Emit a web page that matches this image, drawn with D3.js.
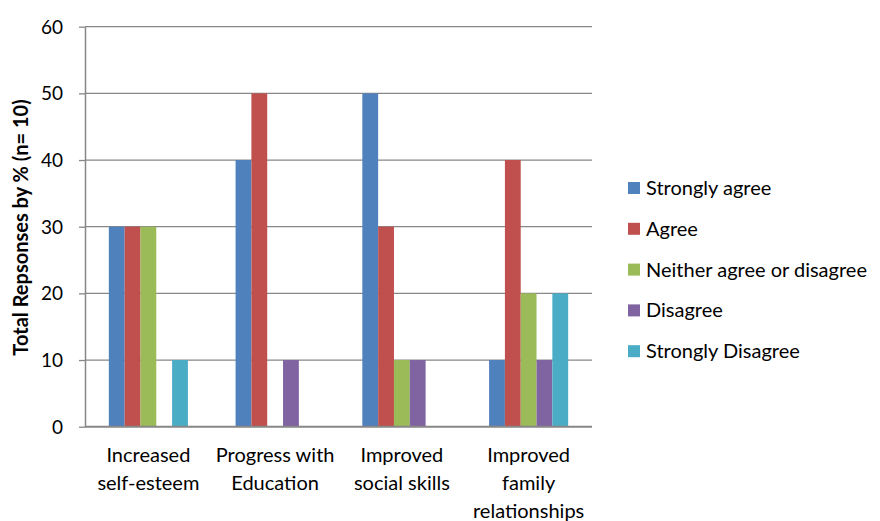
<!DOCTYPE html>
<html><head><meta charset="utf-8">
<script src="https://cdn.jsdelivr.net/npm/d3@7"></script>
<style>body{margin:0;background:#fff}svg{display:block}text{font-family:Lato,"Open Sans",sans-serif;fill:#000}</style>
</head><body><svg id="c" width="880" height="521"></svg>
<script>
const categories = [["Increased","self-esteem"],["Progress with","Education"],["Improved","social skills"],["Improved","family","relationships"]];
const seriesNames = ["Strongly agree","Agree","Neither agree or disagree","Disagree","Strongly Disagree"];
const colors = ["#4F81BD","#C0504D","#9BBB59","#8064A2","#4BACC6"];
const stronglyAgree = [30,40,50,10];
const agree = [30,50,30,40];
const neither = [30,0,10,20];
const disagree = [0,10,10,10];
const stronglyDisagree = [10,0,0,20];
const yTicks = [0,10,20,30,40,50,60];
const yTitle = "Total Repsonses by % (n= 10)";

const values = [stronglyAgree, agree, neither, disagree, stronglyDisagree];
const svg = d3.select("#c");
const L = 85, R = 592, T = 26.7, B = 426.7;
const y = d3.scaleLinear().domain([0,60]).range([B,T]);
const x0 = d3.scaleBand().domain(d3.range(categories.length)).range([L,R]).paddingInner(0.376).paddingOuter(0.188);
const x1 = d3.scaleBand().domain(d3.range(seriesNames.length)).range([0,x0.bandwidth()]);

// gridlines
svg.append("g").selectAll("line").data(yTicks.filter(d=>d>0)).join("line")
  .attr("x1",L).attr("x2",R).attr("y1",d=>y(d)).attr("y2",d=>y(d))
  .attr("stroke","#878787").attr("stroke-width",1.3);

// bars
const g = svg.append("g");
categories.forEach((c,i)=>{
  seriesNames.forEach((s,j)=>{
    const v = values[j][i];
    if (v>0) g.append("rect").attr("x",x0(i)+x1(j)).attr("width",x1.bandwidth())
      .attr("y",y(v)).attr("height",y(0)-y(v)).attr("fill",colors[j]);
  });
});

// y axis
const yAxis = d3.axisLeft(y).tickValues(yTicks).tickSize(6).tickPadding(16).tickSizeOuter(0);
const ya = svg.append("g").attr("transform",`translate(${L},0)`).call(yAxis);
ya.select(".domain").attr("stroke","#878787").attr("stroke-width",1.5);
ya.selectAll(".tick line").attr("stroke","#878787").attr("stroke-width",1.3);
ya.selectAll(".tick text").attr("font-size",19).attr("font-family","Lato,sans-serif").attr("fill","#000").attr("dy","0.34em");

// x axis baseline
svg.append("line").attr("x1",L).attr("x2",R).attr("y1",B).attr("y2",B).attr("stroke","#878787").attr("stroke-width",2);

// category labels
categories.forEach((c,i)=>{
  const t = svg.append("text").attr("text-anchor","middle").attr("font-size",20)
    .attr("x",x0(i)+x0.bandwidth()/2);
  c.forEach((line,k)=>t.append("tspan").attr("x",x0(i)+x0.bandwidth()/2).attr("y",462+k*28).text(line));
});

// y title
svg.append("text").attr("transform",`translate(28,227.5) rotate(-90)`).attr("text-anchor","middle")
  .attr("font-size",20).attr("font-weight","bold").text(yTitle);

// legend
const lg = svg.append("g");
seriesNames.forEach((s,j)=>{
  const yy = 188 + j*40.8;
  lg.append("rect").attr("x",628).attr("y",yy-6).attr("width",12).attr("height",12).attr("fill",colors[j]);
  lg.append("text").attr("x",646).attr("y",yy).attr("dy","0.35em").attr("font-size",20).text(s);
});
</script></body></html>
